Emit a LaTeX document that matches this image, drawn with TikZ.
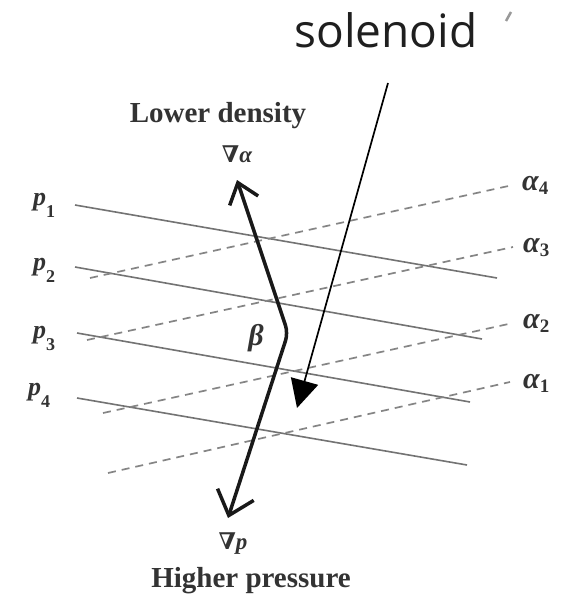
\documentclass[tikz,border=0pt]{standalone}
\usepackage{fontspec}
\setmainfont{Liberation Serif}
\newfontfamily\solfont{Open Sans}
\newfontfamily\nabfont{DejaVu Serif}
\usetikzlibrary{arrows.meta}
\newcommand{\plab}[1]{{\bfseries\itshape p}\raisebox{-12pt}{\fontsize{18}{18}\selectfont\bfseries #1}}
\newcommand{\alab}[1]{{\bfseries\itshape α}\raisebox{-4pt}{\fontsize{19}{19}\selectfont\bfseries #1}}
\tikzset{
  pline/.style={draw=black!55, line width=1.6pt},
  aline/.style={draw=black!48, line width=1.7pt, dash pattern=on 8pt off 6pt},
  gradarrow/.style={draw=black!90, line width=3.5pt, rounded corners=8pt},
  solarrow/.style={draw=black, line width=1.7pt, -{Triangle[length=28pt,width=28pt]}},
  serifbold/.style={inner sep=0pt, font=\fontsize{29}{29}\selectfont\bfseries, text=black!80},
  plabel/.style={inner sep=0pt, anchor=base west, font=\fontsize{26}{26}\selectfont, text=black!80},
  alabel/.style={inner sep=0pt, anchor=base west, font=\fontsize{30}{30}\selectfont, text=black!80},
  nablabel/.style={inner sep=0pt, anchor=base, font=\fontsize{23}{23}\selectfont, text=black!80}
}
\begin{document}
\begin{tikzpicture}[x=1pt,y=-1pt]
\useasboundingbox[fill=white] (0,0) rectangle (562,596);

% title
\node[inner sep=0pt, anchor=base, font=\solfont\fontsize{46}{46}\selectfont, text=black!88] (sol) at (386,48) {solenoid};
\coordinate (tickA) at (511,12);
\coordinate (tickB) at (506,21);
\draw[black!40, line width=2.5pt] (tickA) -- (tickB);

% isobars
\coordinate (p1a) at (75,205);  \coordinate (p1b) at (497,278);
\coordinate (p2a) at (75,267);  \coordinate (p2b) at (482,339);
\coordinate (p3a) at (77,333);  \coordinate (p3b) at (470,402);
\coordinate (p4a) at (77,398);  \coordinate (p4b) at (467,465);
\draw[pline] (p1a) -- (p1b);
\draw[pline] (p2a) -- (p2b);
\draw[pline] (p3a) -- (p3b);
\draw[pline] (p4a) -- (p4b);

% isosteres
\coordinate (a4a) at (90,278);  \coordinate (a4b) at (513,185);
\coordinate (a3a) at (87,340);  \coordinate (a3b) at (513,247);
\coordinate (a2a) at (103,413); \coordinate (a2b) at (513,323);
\coordinate (a1a) at (108,473); \coordinate (a1b) at (510,382);
\draw[aline] (a4a) -- (a4b);
\draw[aline] (a3a) -- (a3b);
\draw[aline] (a2a) -- (a2b);
\draw[aline] (a1a) -- (a1b);

% labels
\node[plabel] (lp1) at (33,205) {\plab{1}};
\node[plabel] (lp2) at (33,270) {\plab{2}};
\node[plabel] (lp3) at (33,338) {\plab{3}};
\node[plabel] (lp4) at (28,395) {\plab{4}};
\node[alabel] (la4) at (522,190) {\alab{4}};
\node[alabel] (la3) at (523,252) {\alab{3}};
\node[alabel] (la2) at (523,328) {\alab{2}};
\node[alabel] (la1) at (523,388) {\alab{1}};

\node[serifbold, anchor=base] (lower) at (218,123) {Lower density};
\node[nablabel] (nala) at (237,163) {{\nabfont\bfseries ∇}{\bfseries\itshape α}};
\node[nablabel] (nalp) at (233,549) {{\nabfont\bfseries ∇}{\bfseries\itshape p}};
\node[serifbold, anchor=base] (higher) at (251,587) {Higher pressure};
\node[inner sep=0pt, anchor=base, font=\fontsize{30}{30}\selectfont\bfseries\itshape, text=black!80] (beta) at (256,345) {β};

% gradient arrows
\coordinate (tipUp) at (237,180);
\coordinate (kink) at (288,333);
\coordinate (tipDown) at (228,518);
\draw[gradarrow, {Straight Barb[length=19pt,width=30pt]}-{Straight Barb[length=22pt,width=38pt]}] (tipUp) -- (kink) -- (tipDown);

% solenoid pointer
\coordinate (solA) at (388,83);
\coordinate (solTip) at (297,408);
\draw[solarrow] (solA) -- (solTip);
\end{tikzpicture}
\end{document}
